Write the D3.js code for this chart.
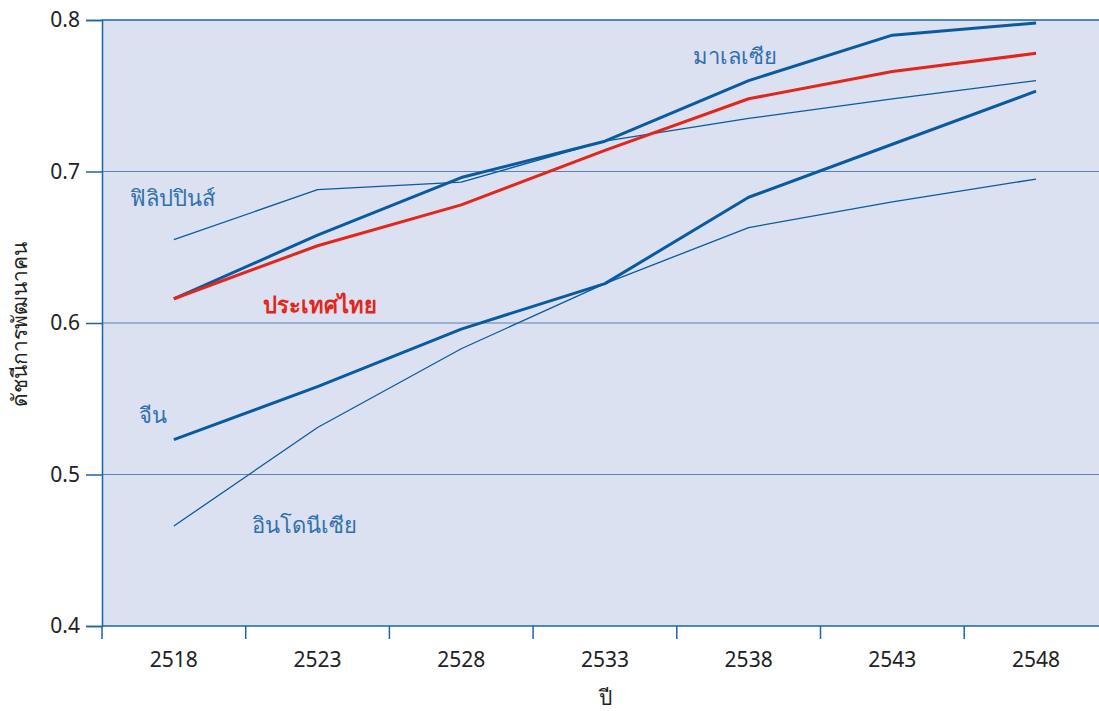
<!DOCTYPE html>
<html>
<head>
<meta charset="utf-8">
<script src="https://cdn.jsdelivr.net/npm/d3@7"></script>
<style>
  body { margin: 0; background: #fff; }
  svg { display: block; font-family: "Noto Sans", "Open Sans", sans-serif; }
</style>
</head>
<body>
<svg id="chart"></svg>
<script>
var years = ["2518", "2523", "2528", "2533", "2538", "2543", "2548"];
var yTicks = [0.4, 0.5, 0.6, 0.7, 0.8];

var malaysia    = [0.616, 0.658, 0.696, 0.720, 0.760, 0.790, 0.798];
var thailand    = [0.616, 0.651, 0.678, 0.714, 0.748, 0.766, 0.778];
var philippines = [0.655, 0.688, 0.693, 0.720, 0.735, 0.748, 0.760];
var china       = [0.523, 0.558, 0.596, 0.626, 0.683, 0.718, 0.753];
var indonesia   = [0.466, 0.531, 0.583, 0.626, 0.663, 0.680, 0.695];

var series = [
    {name: "ฟิลิปปินส์", values: philippines, color: "#0a5aa0", width: 1.3, lx: 130, ly: 206, bold: false},
    {name: "อินโดนีเซีย", values: indonesia, color: "#0a5aa0", width: 1.3, lx: 252, ly: 533, bold: false},
    {name: "จีน", values: china, color: "#0a5aa0", width: 3, lx: 139, ly: 423, bold: false},
    {name: "มาเลเซีย", values: malaysia, color: "#0a5aa0", width: 3, lx: 693, ly: 64, bold: false},
    {name: "ประเทศไทย", values: thailand, color: "#e2261b", width: 3, lx: 263, ly: 313, bold: true}
];

var dimensions = {
    width: 1099,
    height: 711,
    margin: {top: 20, bottom: 85, left: 102, right: 0}
};

var svg = d3.select("#chart")
    .attr("width", dimensions.width)
    .attr("height", dimensions.height);

var bottom = dimensions.height - dimensions.margin.bottom;
var fontFam = '"Noto Sans", "Open Sans", sans-serif';

var xScale = d3.scaleBand()
    .domain(years)
    .range([dimensions.margin.left, dimensions.margin.left + 7 * 143.7]);

var yScale = d3.scaleLinear()
    .domain([0.4, 0.8])
    .range([bottom, dimensions.margin.top]);

// plot background
svg.append("rect")
    .attr("x", dimensions.margin.left)
    .attr("y", dimensions.margin.top)
    .attr("width", dimensions.width - dimensions.margin.left)
    .attr("height", bottom - dimensions.margin.top)
    .attr("fill", "#dbe1f0");

// gridlines
svg.append("g")
    .selectAll("line")
    .data([0.5, 0.6, 0.7])
    .enter()
    .append("line")
    .attr("x1", dimensions.margin.left)
    .attr("x2", dimensions.width)
    .attr("y1", d => yScale(d))
    .attr("y2", d => yScale(d))
    .attr("stroke", "#5f80b8")
    .attr("stroke-width", 1.2);

// top border
svg.append("line")
    .attr("x1", dimensions.margin.left)
    .attr("x2", dimensions.width)
    .attr("y1", yScale(0.8))
    .attr("y2", yScale(0.8))
    .attr("stroke", "#1a64a8")
    .attr("stroke-width", 1.5);

// y axis
var yAxis = svg.append("g")
    .attr("transform", `translate(${dimensions.margin.left},0)`)
    .call(d3.axisLeft(yScale).tickValues(yTicks).tickFormat(d3.format(".1f")).tickSize(16).tickPadding(6))
    .attr("font-family", fontFam)
    .attr("font-size", 21);
yAxis.select(".domain").attr("stroke", "#1a64a8").attr("stroke-width", 1.5);
yAxis.selectAll(".tick line").attr("stroke", "#1a64a8").attr("stroke-width", 1.5);
yAxis.selectAll("text").attr("fill", "#222");

// x axis: ticks at band edges, labels at centres
var xAxis = svg.append("g")
    .attr("transform", `translate(0,${bottom})`);
xAxis.append("line")
    .attr("x1", dimensions.margin.left)
    .attr("x2", dimensions.width)
    .attr("stroke", "#1a64a8")
    .attr("stroke-width", 1.5);
xAxis.selectAll(".edge")
    .data(years)
    .enter()
    .append("line")
    .attr("class", "edge")
    .attr("x1", d => xScale(d))
    .attr("x2", d => xScale(d))
    .attr("y1", 0)
    .attr("y2", 13)
    .attr("stroke", "#1a64a8")
    .attr("stroke-width", 1.5);
xAxis.selectAll("text")
    .data(years)
    .enter()
    .append("text")
    .attr("x", d => xScale(d) + xScale.bandwidth() / 2)
    .attr("y", 41)
    .attr("text-anchor", "middle")
    .attr("fill", "#222")
    .style("font-size", "21px")
    .text(d => d);

// axis titles
svg.append("text")
    .attr("x", 605)
    .attr("y", 705)
    .attr("text-anchor", "middle")
    .attr("fill", "#222")
    .style("font-size", "21px")
    .text("ปี");

svg.append("text")
    .attr("transform", "translate(27,324) rotate(-90)")
    .attr("text-anchor", "middle")
    .attr("fill", "#222")
    .style("font-size", "21px")
    .style("font-weight", "normal")
    .text("ดัชนีการพัฒนาคน");

// lines
var line = d3.line()
    .x((d, i) => xScale(years[i]) + xScale.bandwidth() / 2)
    .y(d => yScale(d));

svg.append("g")
    .selectAll("path")
    .data(series)
    .enter()
    .append("path")
    .attr("d", d => line(d.values))
    .attr("fill", "none")
    .attr("stroke", d => d.color)
    .attr("stroke-width", d => d.width)
    .attr("stroke-linejoin", "round");

// labels
svg.append("g")
    .selectAll("text")
    .data(series)
    .enter()
    .append("text")
    .attr("x", d => d.lx)
    .attr("y", d => d.ly)
    .attr("fill", d => d.bold ? "#e2261b" : "#2f6fae")
    .style("font-size", "22px")
    .style("font-weight", d => d.bold ? "bold" : "normal")
    .text(d => d.name);
</script>
</body>
</html>
